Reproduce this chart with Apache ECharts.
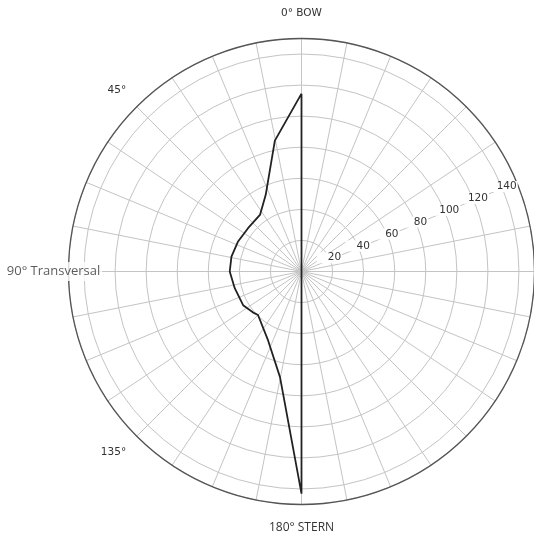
<!DOCTYPE html>
<html>
<head>
<meta charset="utf-8">
<script src="https://cdn.jsdelivr.net/npm/echarts@6/dist/echarts.min.js"></script>
<style>html,body{margin:0;padding:0;background:#fff}#c{width:534px;height:538px}</style>
</head>
<body>
<div id="c"></div>
<script>
// Data (angle in degrees from BOW, radius value)
const angles = [0, 11.5, 25, 36, 51, 65, 78, 90, 104, 120, 130, 135, 154, 168.5, 180];
const radii  = [114.5, 86, 54.5, 45.3, 44.3, 45.2, 46.1, 46.2, 44.3, 43.4, 40.9, 39.6, 49.2, 69.4, 143];
const radialTicks = [20, 40, 60, 80, 100, 120, 140];
const angleLabels = {0: '0° BOW', 45: '45°', 90: '90° Transversal', 135: '135°', 180: '180° STERN'};

const lineData = angles.map((a, i) => [radii[i], a]);
lineData.push([radii[0], angles[0]]); // close back to the bow through the centre

const chart = echarts.init(document.getElementById('c'));
chart.setOption({
  animation: false,
  backgroundColor: '#fff',
  polar: { center: [301.5, 271.5], radius: 233 },
  angleAxis: {
    type: 'value', min: -67.5, max: 292.5, interval: 11.25,
    startAngle: 22.5, clockwise: false,
    axisLine: { lineStyle: { color: '#555', width: 1.3 } },
    axisTick: { show: false },
    splitLine: { lineStyle: { color: '#c4c4c4', width: 1 } },
    axisLabel: {
      margin: 15, color: '#333', fontFamily: 'DejaVu Sans', fontSize: 10.5,
      formatter: v => {
        if (v === 90) return '';
        const t = angleLabels[v];
        if (!t) return '';
        if (v === 0) return '{top|' + t + '}';
        if (v === 180) return '{bot|' + t + '}';
        return t;
      },
      rich: {
        top: { fontFamily: 'DejaVu Sans', fontSize: 10.5, color: '#333', padding: [0, 0, 5, 0] },
        bot: { fontFamily: 'Open Sans', fontSize: 12, color: '#333', padding: [2, 0, 0, 0] }
      }
    }
  },
  radiusAxis: {
    type: 'value', min: 0, max: 150, interval: 20,
    axisLine: { show: false },
    axisTick: { show: false },
    splitLine: { lineStyle: { color: '#c4c4c4', width: 1 } },
    axisLabel: {
      margin: 2, color: '#333', fontFamily: 'DejaVu Sans', fontSize: 10.5,
      align: 'center', verticalAlign: 'middle',
      backgroundColor: '#fff', padding: [0, 1, 0, 11],
      formatter: v => radialTicks.indexOf(v) >= 0 ? String(v) : ''
    }
  },
  series: [
    {
      type: 'line', coordinateSystem: 'polar', data: lineData,
      symbol: 'none', lineStyle: { color: '#222', width: 1.8 }, z: 3
    },
    {
      type: 'scatter', coordinateSystem: 'polar', data: [[150, 90]],
      symbolSize: 0, silent: true, z: 4,
      label: {
        show: true, position: 'inside', offset: [-15, 0],
        formatter: () => angleLabels[90],
        fontFamily: 'Open Sans', fontSize: 13, color: '#333',
        backgroundColor: '#fff', padding: [3, 2]
      }
    }
  ]
});
</script>
</body>
</html>
